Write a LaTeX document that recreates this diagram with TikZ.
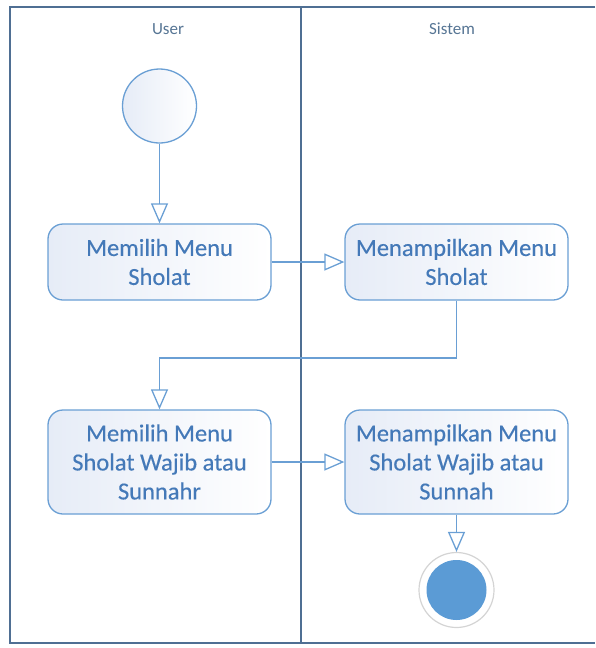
\documentclass[tikz,border=0pt]{standalone}
\usepackage{fontspec}
\setmainfont{Carlito}
\newfontfamily\boxfont[FakeBold=0.35]{Carlito}
\usetikzlibrary{arrows.meta}
\definecolor{lane}{HTML}{4F6F93}
\definecolor{boxline}{HTML}{6A9FD4}
\definecolor{txt}{HTML}{4479B8}
\definecolor{boxfill}{HTML}{E6ECF7}
\definecolor{endfill}{HTML}{5B9BD5}
\definecolor{ring}{HTML}{D4D4D4}
\definecolor{titletxt}{HTML}{567594}
\begin{document}
\begin{tikzpicture}[x=1pt,y=-1pt,
  lanetitle/.style={text=titletxt, font=\fontsize{17}{20}\selectfont, inner sep=0pt},
  act/.style={draw=boxline, line width=1.3pt, rounded corners=15pt, minimum width=223pt,
    minimum height=76pt, text=txt, align=center, inner sep=0pt,
    left color=boxfill, right color=white,
    font=\boxfont\fontsize{24.5}{29}\selectfont},
  startnode/.style={circle, draw=boxline, line width=1.3pt, minimum size=74pt, inner sep=0pt,
    left color=boxfill, right color=white},
  flow/.style={draw=boxline, line width=1.3pt,
    -{Triangle[open, length=20pt, width=17pt, line width=1.3pt]}}
]
\useasboundingbox (0,0) rectangle (595,648);
\draw[lane, line width=1.4pt] (595,7) -- (10,7) -- (10,643) -- (595,643);
\draw[lane, line width=1.2pt] (301,7) -- (301,643);
\node[lanetitle] (u) at (168,29) {User};
\node[lanetitle] (s) at (452,29) {Sistem};
\node[startnode] (start) at (159.5,106) {};
\node[act] (a1) at (159.5,262) {Memilih Menu\\Sholat};
\node[act] (a2) at (456.5,262) {Menampilkan Menu\\Sholat};
\node[act, minimum height=104pt] (a3) at (159.5,462) {Memilih Menu\\Sholat Wajib atau\\Sunnahr};
\node[act, minimum height=104pt] (a4) at (456.5,462) {Menampilkan Menu\\Sholat Wajib atau\\Sunnah};
\node[circle, draw=ring, line width=1.2pt, fill=white, minimum size=75pt, inner sep=0pt] (end) at (456.5,590) {};
\node[circle, fill=endfill, minimum size=60pt, inner sep=0pt] (endin) at (end.center) {};
\coordinate (bend) at (456.5,358);
\draw[flow] (start) -- (a1);
\draw[flow] (a1) -- (a2);
\draw[flow] (a2.south) -- (bend) -| (a3.north);
\draw[flow] (a3) -- (a4);
\draw[flow] (a4) -- (end);
\end{tikzpicture}
\end{document}
